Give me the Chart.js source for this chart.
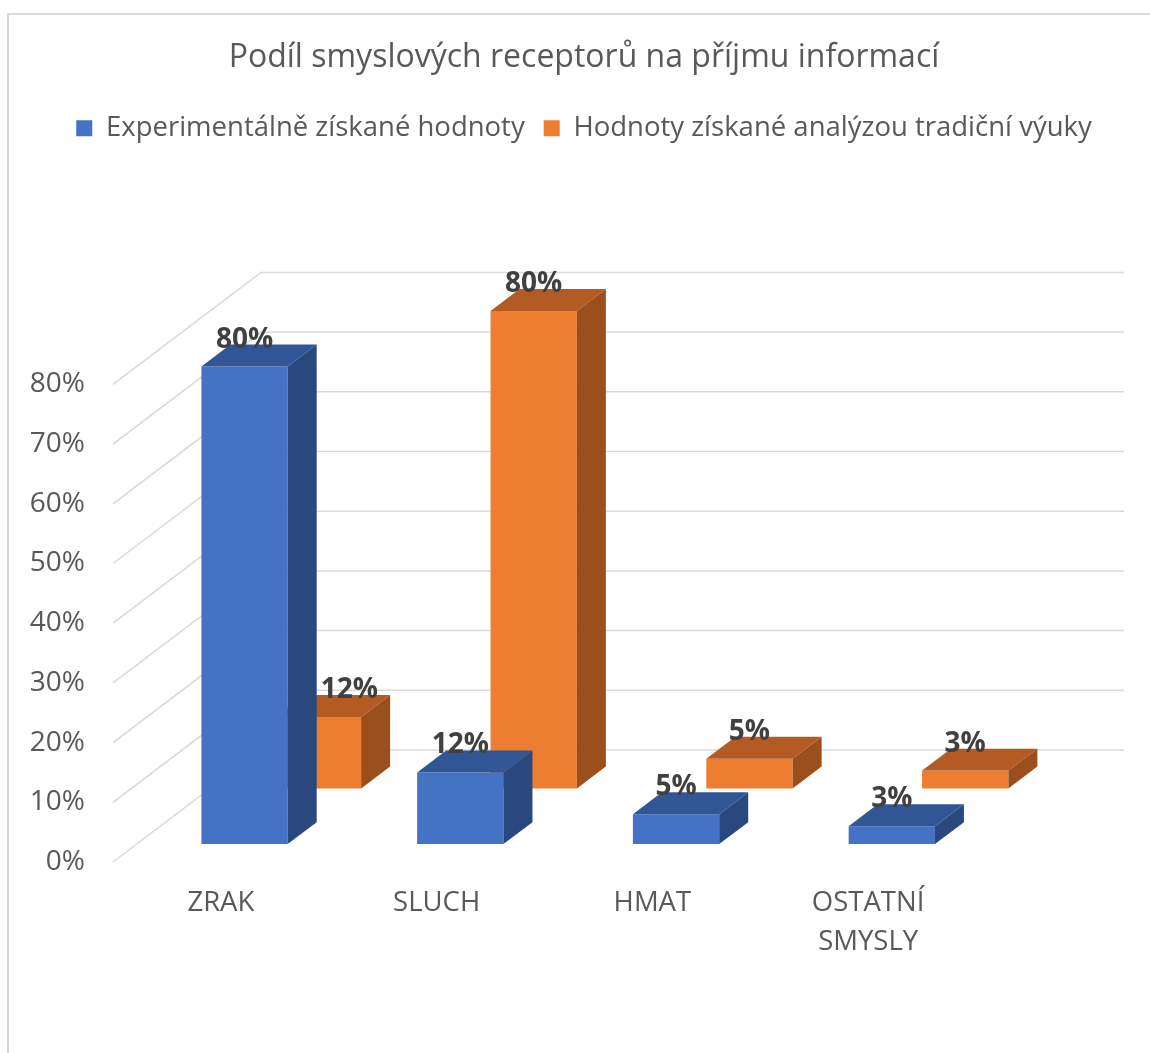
<!DOCTYPE html>
<html>
<head>
<meta charset="utf-8">
<script src="https://cdn.jsdelivr.net/npm/chart.js@4.4.1/dist/chart.umd.min.js"></script>
<style>
  html, body { margin: 0; padding: 0; background: #fff; overflow: hidden; }
  #frame { position: absolute; left: 7px; top: 13px; width: 1300px; height: 1200px; border: 2px solid #d9d9d9; }
  #chart { position: absolute; left: 0; top: 0; }
</style>
</head>
<body>
<div id="frame"></div>
<canvas id="chart" width="1150" height="1053"></canvas>
<script>
const categories = ['ZRAK', 'SLUCH', 'HMAT', ['OSTATNÍ', 'SMYSLY']];
const experimentalValues = [80, 12, 5, 3];
const traditionalValues = [12, 80, 5, 3];
const seriesNames = ['Experimentálně získané hodnoty', 'Hodnoty získané analýzou tradiční výuky'];
const yTickValues = [0, 10, 20, 30, 40, 50, 60, 70, 80];

const FONT = '"Open Sans"';
const TEXT = '#595959';
const GRID = '#d9d9d9';

// depth of the 3d floor (front edge -> back wall), in px
const DEPTH = { x: 148, y: -112 };
const BAR_DEPTH = 0.196; // share of DEPTH taken by one bar
const LEGEND_HEIGHT = 289;

// draws the walls, the side/top faces of the bars and the value labels
const box3d = {
  id: 'box3d',
  beforeInit(chart) {
    const fit = chart.legend.fit;
    chart.legend.fit = function () {
      fit.call(chart.legend);
      this.height = LEGEND_HEIGHT;
    };
  },
  beforeDatasetsDraw(chart) {
    const { ctx, chartArea } = chart;
    const y = chart.scales.y;
    ctx.save();
    ctx.strokeStyle = GRID;
    ctx.lineWidth = 1.5;
    y.ticks.forEach(t => {
      const py = y.getPixelForValue(t.value);
      ctx.beginPath();
      ctx.moveTo(chartArea.left, py);
      ctx.lineTo(chartArea.left + DEPTH.x, py + DEPTH.y);
      ctx.lineTo(chartArea.right + DEPTH.x, py + DEPTH.y);
      ctx.stroke();
    });
    ctx.restore();
  },
  beforeDatasetDraw(chart, args) {
    const ds = chart.data.datasets[args.index];
    chart.ctx.save();
    chart.ctx.translate(DEPTH.x * ds.row, DEPTH.y * ds.row);
  },
  afterDatasetDraw(chart, args) {
    const { ctx } = chart;
    const ds = chart.data.datasets[args.index];
    const dx = DEPTH.x * BAR_DEPTH, dy = DEPTH.y * BAR_DEPTH;
    args.meta.data.forEach(bar => {
      const { x, y, base, width } = bar.getProps(['x', 'y', 'base', 'width'], true);
      const l = x - width / 2, r = x + width / 2;
      ctx.fillStyle = ds.topColor;
      ctx.beginPath();
      ctx.moveTo(l, y); ctx.lineTo(l + dx, y + dy); ctx.lineTo(r + dx, y + dy); ctx.lineTo(r, y);
      ctx.closePath(); ctx.fill();
      ctx.fillStyle = ds.sideColor;
      ctx.beginPath();
      ctx.moveTo(r, y); ctx.lineTo(r + dx, y + dy); ctx.lineTo(r + dx, base + dy); ctx.lineTo(r, base);
      ctx.closePath(); ctx.fill();
    });
    ctx.restore();
  },
  afterDatasetsDraw(chart) {
    const { ctx } = chart;
    const dx = DEPTH.x * BAR_DEPTH, dy = DEPTH.y * BAR_DEPTH;
    const boxes = [];
    chart.data.datasets.forEach((ds, i) => {
      chart.getDatasetMeta(i).data.forEach(bar => {
        const { x, y, base, width } = bar.getProps(['x', 'y', 'base', 'width'], true);
        const ox = DEPTH.x * ds.row, oy = DEPTH.y * ds.row;
        boxes.push({ row: ds.row, l: x - width / 2 + ox, r: x + width / 2 + ox + dx, t: y + oy + dy, b: base + oy });
      });
    });
    ctx.save();
    ctx.font = 'bold 28px ' + FONT;
    ctx.fillStyle = '#404040';
    ctx.textBaseline = 'alphabetic';
    ctx.textAlign = 'left';
    chart.data.datasets.forEach((ds, i) => {
      chart.getDatasetMeta(i).data.forEach((bar, j) => {
        const { x, y } = bar.getProps(['x', 'y'], true);
        const text = ds.data[j] + '%';
        const w = ctx.measureText(text).width;
        let left = x + DEPTH.x * ds.row - w / 2;
        const baseY = y + DEPTH.y * ds.row + dy + 3;
        // move a label out from behind a bar that stands in front of it
        boxes.forEach(b => {
          if (b.row < ds.row && left < b.r && left + w > b.l && baseY > b.t && baseY - 20 < b.b) {
            left = b.r + 4;
          }
        });
        ctx.fillText(text, left, baseY);
      });
    });
    ctx.restore();
  }
};

new Chart(document.getElementById('chart'), {
  type: 'bar',
  data: {
    labels: categories,
    datasets: [
      {
        label: seriesNames[0],
        data: experimentalValues,
        backgroundColor: '#4472C4',
        topColor: '#305696',
        sideColor: '#29497E',
        row: 0.16
      },
      {
        label: seriesNames[1],
        data: traditionalValues,
        backgroundColor: '#ED7D31',
        topColor: '#B35B22',
        sideColor: '#9A4F1D',
        row: 0.656
      }
    ]
  },
  options: {
    responsive: false,
    animation: false,
    grouped: false,
    barPercentage: 0.4,
    categoryPercentage: 1,
    borderWidth: 0,
    clip: false,
    layout: { padding: { left: 18, top: 0, right: 0, bottom: 0 } },
    plugins: {
      title: {
        display: true,
        text: 'Podíl smyslových receptorů na příjmu informací',
        color: TEXT,
        font: { family: FONT, size: 32, weight: 'normal', lineHeight: 1.2 },
        padding: { top: 39, bottom: 18 }
      },
      legend: {
        labels: {
          boxWidth: 16,
          boxHeight: 16,
          padding: 19,
          color: TEXT,
          font: { family: FONT, size: 27.5 }
        }
      },
      tooltip: { enabled: false }
    },
    scales: {
      x: {
        grid: { display: false, drawTicks: false },
        border: { display: false },
        ticks: {
          color: TEXT,
          font: { family: FONT, size: 27.5, lineHeight: 1.4 },
          padding: 22,
          maxRotation: 0,
          autoSkip: false
        },
        afterFit: s => { s.height = 191; }
      },
      y: {
        min: 0,
        max: 80,
        afterBuildTicks: s => { s.ticks = yTickValues.map(v => ({ value: v })); },
        grid: { display: false, drawTicks: false },
        border: { display: false },
        ticks: {
          color: TEXT,
          font: { family: FONT, size: 28 },
          padding: 28,
          callback: v => v + '%'
        },
        afterFit: s => { s.width = 95; }
      },
      yRight: {
        position: 'right',
        grid: { display: false, drawTicks: false },
        border: { display: false },
        ticks: { display: false },
        afterFit: s => { s.width = 174; }
      }
    }
  },
  plugins: [box3d]
});
</script>
</body>
</html>
